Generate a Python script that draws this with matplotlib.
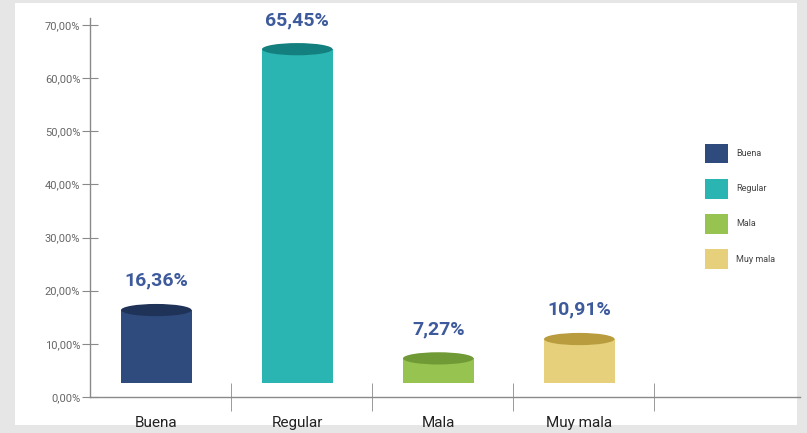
import matplotlib
matplotlib.use("Agg")
import matplotlib.pyplot as plt
from matplotlib.patches import Ellipse, Rectangle, Patch

plt.rcParams['font.family'] = ['Roboto', 'DejaVu Sans']

categories = ["Buena", "Regular", "Mala", "Muy mala"]
values = [16.36, 65.45, 7.27, 10.91]
labels = ["16,36%", "65,45%", "7,27%", "10,91%"]
yticks = [0, 10, 20, 30, 40, 50, 60, 70]
ytick_labels = ["0,00%", "10,00%", "20,00%", "30,00%", "40,00%", "50,00%", "60,00%", "70,00%"]

body_colors = ["#2f4a7c", "#2bb5b2", "#97c351", "#e6d07c"]
top_colors = ["#1f3258", "#13807f", "#6f9a35", "#b89c3d"]
label_color = "#3d5a9c"

base = 2.6
bar_w = 0.5

fig = plt.figure(figsize=(8.07, 4.33), dpi=100)
fig.patch.set_facecolor("#e6e6e6")
bg = Rectangle((15/807, 8/433), (797-15)/807, (430-8)/433,
               transform=fig.transFigure, facecolor="white",
               edgecolor="none", zorder=-10)
fig.add_artist(bg)

ax = fig.add_axes([90/807, 36/433, (800-90)/807, (397-18)/433])
ax.set_zorder(1)
ax.set_facecolor("none")
ax.set_xlim(0, (800-90)/141)
ax.set_ylim(0, 70 + 7/5.314)

xs = [i + 0.47 for i in range(len(categories))]
ell_h = 2.3
for x, v, bc, tc, lab in zip(xs, values, body_colors, top_colors, labels):
    ax.bar(x, v - base, bottom=base, width=bar_w, color=bc, zorder=2)
    ax.add_patch(Ellipse((x, v), bar_w, ell_h, facecolor=tc, edgecolor="none", zorder=3))
    ax.text(x, v + 5.5, lab, ha="center", va="center", fontsize=14,
            fontweight="bold", color=label_color, zorder=4)

for s in ["top", "right"]:
    ax.spines[s].set_visible(False)
for s in ["left", "bottom"]:
    ax.spines[s].set_color("#8a8a8a")
    ax.spines[s].set_linewidth(1.0)

ax.set_yticks(yticks)
ax.set_yticklabels(ytick_labels, fontsize=8, color="#666666")
ax.tick_params(axis="y", direction="inout", length=12, color="#8a8a8a", pad=1)

ax.set_xticks(xs)
ax.set_xticklabels(categories, fontsize=11, color="#222222")
ax.tick_params(axis="x", which="major", length=0, pad=14)
ax.set_xticks([1, 2, 3, 4], minor=True)
ax.tick_params(axis="x", which="minor", direction="inout", length=20, color="#8a8a8a")

handles = [Patch(facecolor=c, edgecolor="none") for c in body_colors]
leg = fig.legend(handles, categories, loc="upper left", bbox_to_anchor=(701/807, 1 - 140/433),
                 frameon=False, fontsize=6.5, handlelength=2.6, handleheight=3.0,
                 labelspacing=1.7, handletextpad=0.9, borderaxespad=0)
leg.set_zorder(2)
for t in leg.get_texts():
    t.set_color("#444444")

fig.savefig("out.png", dpi=100, facecolor=fig.get_facecolor())
